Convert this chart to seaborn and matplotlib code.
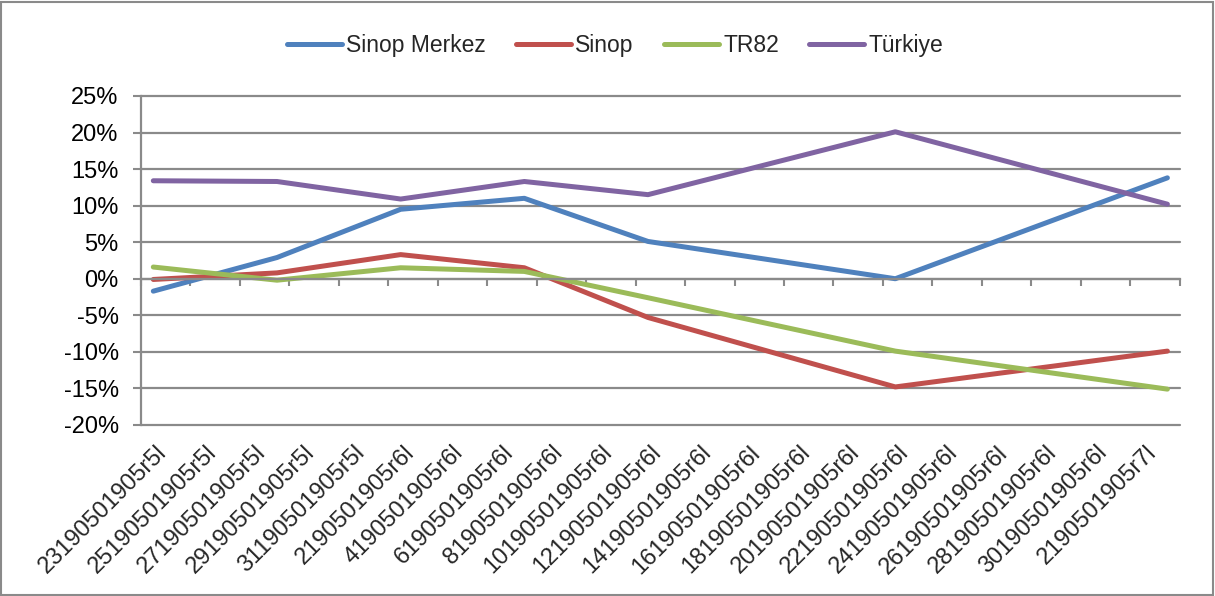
import matplotlib
matplotlib.use("Agg")
import matplotlib.pyplot as plt
import numpy as np
import pandas as pd
import seaborn as sns
from matplotlib.patches import Rectangle
from matplotlib.ticker import FuncFormatter
from matplotlib.transforms import ScaledTranslation

# ---- data ----
dates = ["2019-05-23", "2019-05-28", "2019-06-02", "2019-06-07",
         "2019-06-12", "2019-06-22", "2019-07-03"]
sinop_merkez = [-1.7, 2.9, 9.5, 11.0, 5.1, 0.0, 13.8]
sinop = [-0.1, 0.8, 3.3, 1.5, -5.3, -14.8, -9.9]
tr82 = [1.6, -0.2, 1.5, 1.0, -2.6, -9.9, -15.1]
turkiye = [13.4, 13.3, 10.9, 13.3, 11.5, 20.1, 10.2]
series_names = ["Sinop Merkez", "Sinop", "TR82", "Türkiye"]
colors = ["#4F81BD", "#C0504D", "#9BBB59", "#8064A2"]
x_labels = ["23190501905r5l", "25190501905r5l", "27190501905r5l", "29190501905r5l",
            "31190501905r5l", "2190501905r6l", "4190501905r6l", "6190501905r6l",
            "8190501905r6l", "10190501905r6l", "12190501905r6l", "14190501905r6l",
            "16190501905r6l", "18190501905r6l", "20190501905r6l", "22190501905r6l",
            "24190501905r6l", "26190501905r6l", "28190501905r6l", "30190501905r6l",
            "2190501905r7l"]
y_ticks = [-20, -15, -10, -5, 0, 5, 10, 15, 20, 25]

# ---- build frame ----
dt = pd.to_datetime(dates)
day = (dt - dt[0]).days
rows = []
for name, vals in zip(series_names, [sinop_merkez, sinop, tr82, turkiye]):
    for d, v in zip(day, vals):
        rows.append({"day": d, "value": v, "series": name})
df = pd.DataFrame(rows)

sns.set_theme(style="white")
plt.rcParams["font.family"] = ["Liberation Sans", "DejaVu Sans"]

FS = 17
GRID = "#8a8a8a"

fig = plt.figure(figsize=(12.15, 5.96), dpi=100)
ax = fig.add_axes([0.116, 0.287, 0.855, 0.552])

sns.lineplot(data=df, x="day", y="value", hue="series", hue_order=series_names,
             palette=colors, linewidth=3.6, ax=ax, solid_capstyle="round",
             solid_joinstyle="round", legend=True)

n_cat = len(x_labels)
ax.set_xlim(-0.5, -0.5 + 2 * n_cat)
ax.set_ylim(min(y_ticks), max(y_ticks))
ax.set_yticks(y_ticks)
ax.yaxis.set_major_formatter(FuncFormatter(lambda v, p: f"{int(v)}%"))
ax.yaxis.grid(True, color=GRID, linewidth=1.6)
ax.set_axisbelow(True)
for gl in ax.get_ygridlines():
    gl.set_clip_on(False)
ax.set_xlabel("")
ax.set_ylabel("")

# spines
for s in ["top", "right"]:
    ax.spines[s].set_visible(False)
ax.spines["left"].set_color(GRID)
ax.spines["left"].set_linewidth(1.6)
ax.spines["bottom"].set_position(("data", 0))
ax.spines["bottom"].set_color(GRID)
ax.spines["bottom"].set_linewidth(1.6)

boundaries = [-0.5 + 2 * i for i in range(n_cat + 1)]
ax.set_xticks(boundaries)
ax.set_xticklabels([])
ax.tick_params(axis="x", bottom=True, direction="out", length=5, width=1.5, color=GRID)
ax.tick_params(axis="y", left=True, direction="out", length=6, width=1.5, color=GRID,
               labelsize=FS, pad=10, labelcolor="black")

# category labels at bottom
sec = ax.secondary_xaxis(0.0)
centers = [0.5 + 2 * i for i in range(n_cat)]
sec.set_xticks(centers)
sec.set_xticklabels(x_labels, rotation=45, ha="right", rotation_mode="anchor",
                    fontsize=FS)
sec.tick_params(length=0, pad=12)
sec.spines["bottom"].set_visible(False)
shift = ScaledTranslation(-10 / 100, 0, fig.dpi_scale_trans)
for lab in sec.get_xticklabels():
    lab.set_transform(lab.get_transform() + shift)

# legend
handles, labels = ax.get_legend_handles_labels()
ax.get_legend().remove()
fig.legend(handles, labels, loc="center", bbox_to_anchor=(0.506, 0.924), ncol=4,
           frameon=False, fontsize=16.5, handlelength=2.4, handletextpad=0.2,
           columnspacing=1.3)

# chart border
fig.patches.append(Rectangle((0.001, 0.002), 0.997, 0.995, transform=fig.transFigure,
                             fill=False, edgecolor=GRID, linewidth=1.5))

fig.savefig("out.png", dpi=100)
